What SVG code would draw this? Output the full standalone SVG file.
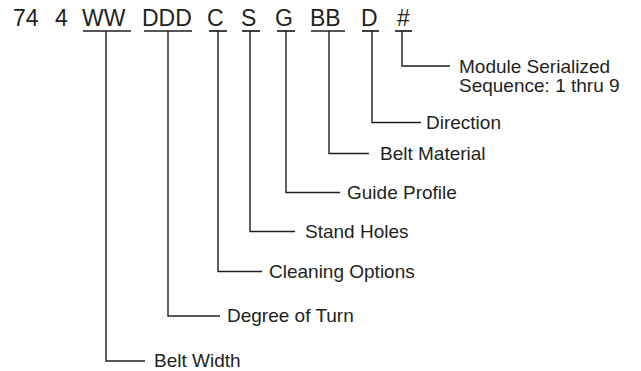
<svg xmlns="http://www.w3.org/2000/svg" width="641" height="371" viewBox="0 0 641 371">
<style>
.t{font-family:"Liberation Sans",Arial,sans-serif;font-size:23px;fill:#231f20}
.l{font-family:"Liberation Sans",Arial,sans-serif;font-size:19px;fill:#231f20}
.c{stroke:#231f20;stroke-width:1.4;fill:none}
.u{stroke:#231f20;stroke-width:1.7}
</style>
<rect width="641" height="371" fill="#fff"/>
<g id="code">
<text class="t" x="13" y="26">74</text>
<text class="t" x="55" y="26">4</text>
<text class="t" x="82" y="26">WW</text>
<text class="t" x="142" y="26">DDD</text>
<text class="t" x="207" y="26">C</text>
<text class="t" x="241" y="26">S</text>
<text class="t" x="275" y="26">G</text>
<text class="t" x="310" y="26">BB</text>
<text class="t" x="361" y="26">D</text>
<text class="t" x="397" y="26">#</text>
<g class="u">
<line x1="83" y1="31" x2="131" y2="31"/>
<line x1="144" y1="31" x2="192" y2="31"/>
<line x1="209" y1="31" x2="227" y2="31"/>
<line x1="242" y1="31" x2="260" y2="31"/>
<line x1="277" y1="31" x2="295" y2="31"/>
<line x1="311" y1="31" x2="345" y2="31"/>
<line x1="362" y1="31" x2="379" y2="31"/>
<line x1="395" y1="31" x2="412" y2="31"/>
</g>
</g>
<g id="connectors">
<path class="c" d="M402 31V66H450"/>
<path class="c" d="M372 31V122.5H421"/>
<path class="c" d="M329 31V153.5H369"/>
<path class="c" d="M286 31V192.5H340"/>
<path class="c" d="M250 31V231.5H295"/>
<path class="c" d="M218 31V271.5H262"/>
<path class="c" d="M168 31V316H220"/>
<path class="c" d="M106 31V361H145"/>
</g>
<g id="module"><text class="l" x="459" y="73">Module Serialized</text><text class="l" x="459" y="92">Sequence: 1 thru 9</text></g>
<g id="direction"><text class="l" x="426" y="129">Direction</text></g>
<g id="belt-material"><text class="l" x="380" y="160">Belt Material</text></g>
<g id="guide-profile"><text class="l" x="347" y="199">Guide Profile</text></g>
<g id="stand-holes"><text class="l" x="305" y="238">Stand Holes</text></g>
<g id="cleaning-options"><text class="l" x="269" y="278">Cleaning Options</text></g>
<g id="degree-of-turn"><text class="l" x="227" y="322">Degree of Turn</text></g>
<g id="belt-width"><text class="l" x="154" y="367">Belt Width</text></g>
</svg>
